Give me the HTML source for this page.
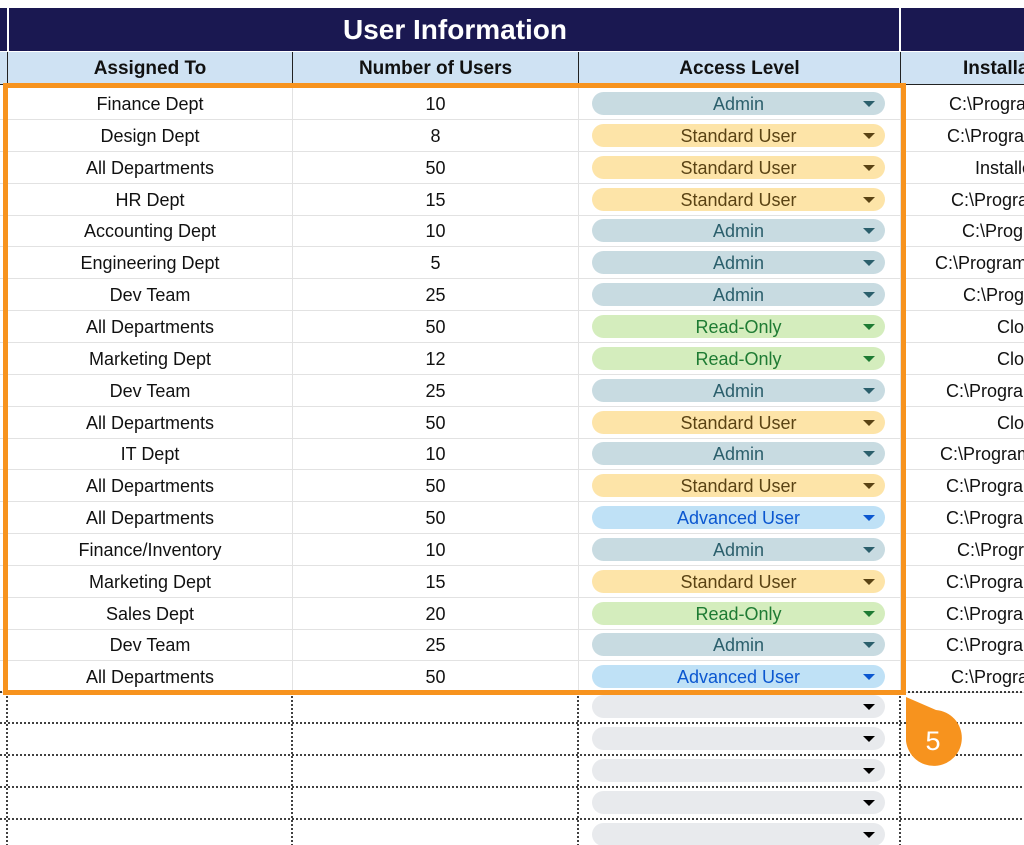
<!DOCTYPE html>
<html><head><style>
html,body{margin:0;width:1024px;height:845px;overflow:hidden}
body{background:#fff;font-family:"Liberation Sans",sans-serif;position:relative}
#wrap{position:absolute;left:0;top:0;width:1024px;height:845px;overflow:hidden}
.a{position:absolute}
.t{position:absolute;font-size:18px;color:#111;white-space:nowrap;text-align:center}
.pill{position:absolute;left:592px;width:293px;height:23px;border-radius:12px;font-size:18px;text-align:center;line-height:24px}
.pill i{position:absolute;right:10px;top:9px;width:0;height:0;border-left:6px solid transparent;border-right:6px solid transparent;border-top:6px solid}
.hl{position:absolute;left:0;width:1024px;height:1px;background:#e2e2e2}
.vl{position:absolute;width:1px;background:#e2e2e2}
</style></head><body><div id="wrap">
<div class="a" style="left:0;top:8px;width:1024px;height:43px;background:#1a1851"></div>
<div class="a" style="left:7px;top:8px;width:2px;height:43px;background:#fff"></div>
<div class="a" style="left:899px;top:8px;width:2px;height:43px;background:#fff"></div>
<div class="a" style="top:10px;text-align:center;color:#fff;font-weight:bold;font-size:28px;line-height:40px;left:150px;width:610px">User Information</div>
<div class="a" style="left:0;top:52px;width:1024px;height:32px;background:#cfe2f3"></div>
<div class="a" style="left:7px;top:52px;width:1px;height:32px;background:#222"></div>
<div class="a" style="left:292px;top:52px;width:1px;height:32px;background:#222"></div>
<div class="a" style="left:578px;top:52px;width:1px;height:32px;background:#222"></div>
<div class="a" style="left:900px;top:52px;width:1px;height:32px;background:#222"></div>
<div class="a" style="left:0;top:84px;width:1024px;height:1px;background:#222"></div>
<div class="t" style="left:8px;width:284px;top:58px;font-weight:bold;font-size:19px">Assigned To</div>
<div class="t" style="left:293px;width:285px;top:58px;font-weight:bold;font-size:19px">Number of Users</div>
<div class="t" style="left:579px;width:321px;top:58px;font-weight:bold;font-size:19px">Access Level</div>
<div class="t" style="left:963px;top:58px;font-weight:bold;font-size:19px;text-align:left">Installation Path</div>
<div class="vl" style="left:292px;top:85px;height:607px"></div>
<div class="vl" style="left:578px;top:85px;height:607px"></div>
<div class="vl" style="left:900px;top:85px;height:607px"></div>
<div id="rows"></div>
<svg class="a" style="left:0;top:0" width="1024" height="845">
<g stroke="#000" stroke-width="1.5" stroke-dasharray="2,2" fill="none">
<line x1="7" y1="692" x2="7" y2="845"/><line x1="292" y1="692" x2="292" y2="845"/><line x1="578" y1="692" x2="578" y2="845"/><line x1="900" y1="692" x2="900" y2="845"/>
<line x1="0" y1="692" x2="1024" y2="692"/><line x1="0" y1="723" x2="1024" y2="723"/><line x1="0" y1="755" x2="1024" y2="755"/><line x1="0" y1="787" x2="1024" y2="787"/><line x1="0" y1="819" x2="1024" y2="819"/>
</g>
<rect x="5.5" y="85.5" width="898" height="607" fill="none" stroke="#f7931e" stroke-width="5"/>
<path d="M906,697 L936,710 A28,28 0 1 1 906,741 Z" fill="#f7931e"/>
<text x="933" y="750" font-family="Liberation Sans" font-size="27" fill="#fff" text-anchor="middle">5</text>
</svg>
</div>
<script>
const d=[["Finance Dept",10,"A","C:\\Program Files",949],["Design Dept",8,"S","C:\\Program Files",947],["All Departments",50,"S","Installed",975],["HR Dept",15,"S","C:\\Program Files",951],["Accounting Dept",10,"A","C:\\Program Files",962],["Engineering Dept",5,"A","C:\\Program Files",935],["Dev Team",25,"A","C:\\Program Files",963],["All Departments",50,"R","Cloud",997],["Marketing Dept",12,"R","Cloud",997],["Dev Team",25,"A","C:\\Program Files",946],["All Departments",50,"S","Cloud",997],["IT Dept",10,"A","C:\\Program Files",940],["All Departments",50,"S","C:\\Program Files",946],["All Departments",50,"V","C:\\Program Files",946],["Finance/Inventory",10,"A","C:\\Program Files",957],["Marketing Dept",15,"S","C:\\Program Files",946],["Sales Dept",20,"R","C:\\Program Files",946],["Dev Team",25,"A","C:\\Program Files",946],["All Departments",50,"V","C:\\Program Files",951]];
const P={A:["Admin","#c8dbe1","#2b5f6c"],S:["Standard User","#fde4a8","#5a4314"],R:["Read-Only","#d4edbd","#1e7b33"],V:["Advanced User","#bfe1f6","#0b57d0"]};
let h="";
d.forEach((r,i)=>{const c=88+i*31.85;const y=c+16;
h+=`<div class="hl" style="top:${c+31}px"></div>`;
h+=`<div class="t" style="left:8px;width:284px;top:${y-10}px">${r[0]}</div><div class="t" style="left:293px;width:285px;top:${y-10}px">${r[1]}</div>`;
const p=P[r[2]];h+=`<div class="pill" style="top:${y-12}px;background:${p[1]};color:${p[2]}">${p[0]}<i style="color:${p[2]}"></i></div>`;
h+=`<div class="t" style="left:${r[4]}px;top:${y-10}px;text-align:left">${r[3]}</div>`;});
for(let i=0;i<5;i++){const y=707+i*32;h+=`<div class="pill" style="top:${y-12}px;background:#e8eaed;color:#000"><i></i></div>`;}
document.getElementById("rows").innerHTML=h;
</script>
</body></html>
